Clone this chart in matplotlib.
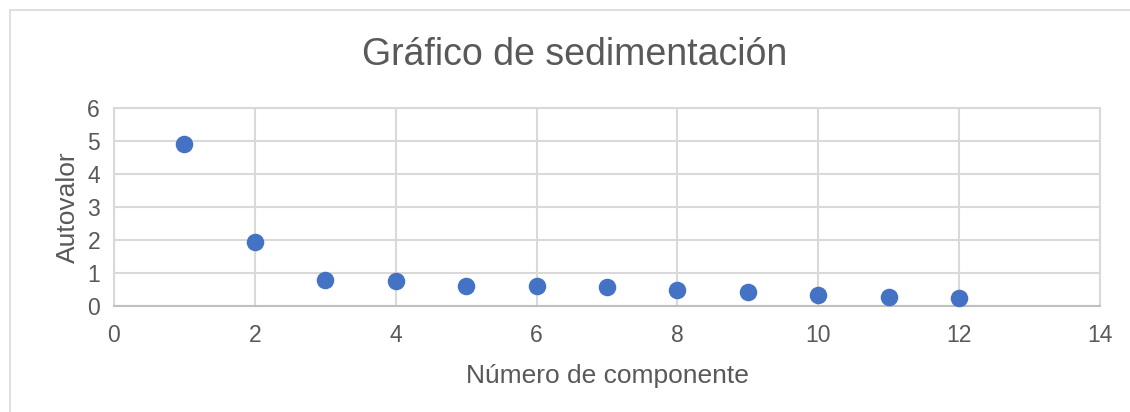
import matplotlib.pyplot as plt
from matplotlib.patches import Rectangle

plt.rcParams['font.family'] = ['Liberation Sans', 'DejaVu Sans']

# eigenvalues per component
componente = [1, 2, 3, 4, 5, 6, 7, 8, 9, 10, 11, 12]
autovalor = [4.91, 1.95, 0.80, 0.75, 0.62, 0.61, 0.57, 0.48, 0.41, 0.34, 0.27, 0.25]

x_ticks = [0, 2, 4, 6, 8, 10, 12, 14]
y_ticks = [0, 1, 2, 3, 4, 5, 6]

W, H = 1130, 412
fig = plt.figure(figsize=(W / 100, H / 100), dpi=100)

# chart frame
fig.patches.append(Rectangle((10 / W, -0.1), 1.2, 1 - 10 / H + 0.1, transform=fig.transFigure,
                             fill=False, edgecolor='#D9D9D9', linewidth=1.2))

ax = fig.add_axes([114 / W, 1 - 306 / H, (1100 - 114) / W, (306 - 108) / H])
ax.scatter(componente, autovalor, s=135, color='#4472C4', zorder=3, clip_on=False)

ax.set_xlim(0, 14)
ax.set_ylim(0, 6)
ax.set_xticks(x_ticks)
ax.set_yticks(y_ticks)
ax.grid(True, color='#D9D9D9', linewidth=1.5)
ax.set_axisbelow(True)
ax.tick_params(length=0, labelsize=16.5, labelcolor='#595959')
ax.tick_params(axis='x', pad=13)
ax.tick_params(axis='y', pad=10)

for side in ['top', 'left', 'right']:
    ax.spines[side].set_color('#D9D9D9')
    ax.spines[side].set_linewidth(1.5)
ax.spines['bottom'].set_color('#BFBFBF')
ax.spines['bottom'].set_linewidth(1.5)

ax.set_xlabel('Número de componente', fontsize=19, color='#595959', labelpad=12)
ax.set_ylabel('Autovalor', fontsize=19, color='#595959', labelpad=5)

fig.text(575 / W, 1 - 55 / H, 'Gráfico de sedimentación', fontsize=27, color='#595959',
         ha='center', va='center')

fig.savefig('out.png', dpi=100)
